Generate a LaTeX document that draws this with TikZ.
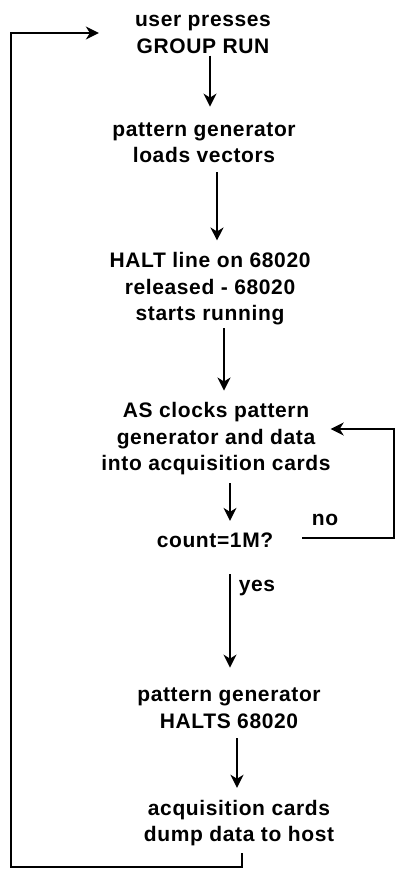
\documentclass[tikz,border=0pt]{standalone}
\usepackage{fontspec}
\newfontfamily\flowfont[LetterSpace=3]{Liberation Sans}
\usetikzlibrary{arrows.meta}
\begin{document}
\begin{tikzpicture}[x=1pt,y=-1pt,
  stage/.style={inner sep=0pt,align=center,font=\flowfont\bfseries\fontsize{21}{26.5}\selectfont},
  flow/.style={-{Stealth[length=13pt,width=13pt,inset=4pt]},line width=1.5pt,shorten >=12pt},
  answer/.style={inner sep=0pt,anchor=base,font=\flowfont\bfseries\fontsize{21}{26.5}\selectfont}]
\useasboundingbox (0,0) rectangle (396,869);
\node[stage] (n0) at (203,34.5) {user presses\\GROUP RUN};
\node[stage] (n1) at (204,143) {pattern generator\\loads vectors};
\node[stage] (n2) at (210,289) {HALT line on 68020\\released - 68020\\starts running};
\node[stage] (n3) at (216,439) {AS clocks pattern\\generator and data\\into acquisition cards};
\node[stage] (n4) at (215,540.5) {count=1M?};
\node[stage] (n5) at (229,708) {pattern generator\\HALTS 68020};
\node[stage] (n6) at (239,823) {acquisition cards\\dump data to host};
\node[answer] (lblno) at (325,525) {no};
\node[answer] (lblyes) at (257,591) {yes};
\coordinate (loopR) at (394,538);
\coordinate (loopL) at (11,867);
\draw[flow,shorten <=2pt,shorten >=16pt] ([xshift=7pt]n0.south) -- ([xshift=6pt]n1.north);
\draw[flow,shorten <=9pt] ([xshift=13pt]n1.south) -- ([xshift=7pt]n2.north);
\draw[flow,shorten <=2.5pt] ([xshift=14pt]n2.south) -- ([xshift=8pt]n3.north);
\draw[flow,shorten <=8pt] ([xshift=14pt]n3.south) -- ([xshift=15pt]n4.north);
\draw[flow,shorten <=26pt,shorten >=20pt] ([xshift=15pt]n4.south) -- ([xshift=1pt]n5.north);
\draw[flow,shorten <=10pt] ([xshift=8pt]n5.south) -- ([xshift=-2pt]n6.north);
\draw[flow,shorten <=29pt,shorten >=0pt] ([yshift=2.5pt]n4.east) -- ([yshift=2.5pt]n4.east -| loopR) |- ([yshift=10pt]n3.east);
\draw[flow,shorten <=7pt,shorten >=36pt] ([xshift=3pt]n6.south) |- (loopL) |- ([yshift=1.5pt]n0.west);
\end{tikzpicture}
\end{document}
